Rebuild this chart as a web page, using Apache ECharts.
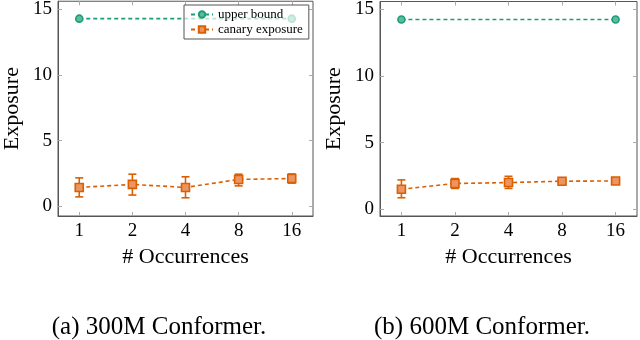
<!DOCTYPE html>
<html>
<head>
<meta charset="utf-8">
<script src="https://cdn.jsdelivr.net/npm/echarts@6/dist/echarts.min.js"></script>
<style>
  html, body { margin: 0; padding: 0; background: #fff; }
  #chart { width: 640px; height: 340px; }
</style>
</head>
<body>
<div id="chart"></div>
<script>
var occurrences = [1, 2, 4, 8, 16];
var boundOcc = [1, 16];
var bound300 = [14.3, 14.3];
var bound600 = [14.25, 14.25];
var canary300 = [1.42, 1.65, 1.42, 2.03, 2.1];
var low300 = [0.7, 0.84, 0.63, 1.54, 1.75];
var high300 = [2.15, 2.43, 2.23, 2.43, 2.45];
var canary600 = [1.51, 1.94, 2.01, 2.11, 2.13];
var low600 = [0.87, 1.57, 1.57, 2.02, 2.04];
var high600 = [2.21, 2.31, 2.48, 2.2, 2.22];
var yTicks = [0, 5, 10, 15];
var captions = ["(a) 300M Conformer.", "(b) 600M Conformer."];

var green = "#1b9e77";
var orange = "#d95f02";
var font = "Liberation Serif";

var chart = echarts.init(document.getElementById("chart"));

// x is placed on a log2 scale, labels show the occurrence count
var xTicks = occurrences.map(function (o) { return Math.log2(o); });

function pairs(xs, ys) {
  return xs.map(function (x, i) { return [Math.log2(x), ys[i]]; });
}
function bars(lo, hi) {
  return occurrences.map(function (o, i) { return [Math.log2(o), lo[i], hi[i]]; });
}

function errorBar(params, api) {
  var x = api.value(0);
  var lo = api.coord([x, api.value(1)]);
  var hi = api.coord([x, api.value(2)]);
  var w = 4;
  var st = { stroke: orange, lineWidth: 1.6 };
  return {
    type: "group",
    children: [
      { type: "line", shape: { x1: lo[0], y1: lo[1], x2: hi[0], y2: hi[1] }, style: st },
      { type: "line", shape: { x1: lo[0] - w, y1: lo[1], x2: lo[0] + w, y2: lo[1] }, style: st },
      { type: "line", shape: { x1: hi[0] - w, y1: hi[1], x2: hi[0] + w, y2: hi[1] }, style: st },
    ],
  };
}

function xAxes(grid) {
  return [
    {
      type: "value", gridIndex: grid, min: -0.4, max: 4.4, position: "bottom",
      name: "# Occurrences", nameLocation: "middle", nameGap: 25,
      nameTextStyle: { fontFamily: font, fontSize: 22, color: "#000" },
      axisLine: { show: true, onZero: false, lineStyle: { color: "#555", width: 1 } },
      axisTick: { show: true, inside: true, length: 4, customValues: xTicks, lineStyle: { color: "#aaa" } },
      axisLabel: {
        customValues: xTicks, margin: 6, fontFamily: font, fontSize: 19, color: "#000",
        formatter: function (v) { return String(Math.round(Math.pow(2, v))); },
      },
      splitLine: { show: false },
    },
    {
      type: "value", gridIndex: grid, min: -0.4, max: 4.4, position: "top",
      axisLine: { show: false, onZero: false },
      axisTick: { show: true, inside: true, length: 4, customValues: xTicks, lineStyle: { color: "#aaa" } },
      axisLabel: { show: false },
      splitLine: { show: false },
    },
  ];
}

function yAxes(grid, min, max) {
  return [
    {
      type: "value", gridIndex: grid, min: min, max: max, position: "left",
      name: "Exposure", nameLocation: "middle", nameGap: 35,
      nameTextStyle: { fontFamily: font, fontSize: 22, color: "#000" },
      axisLine: { show: true, onZero: false, lineStyle: { color: "#555", width: 1 } },
      axisTick: { show: true, inside: true, length: 4, customValues: yTicks, lineStyle: { color: "#aaa" } },
      axisLabel: { customValues: yTicks, margin: 6, fontFamily: font, fontSize: 19, color: "#000" },
      splitLine: { show: false },
    },
    {
      type: "value", gridIndex: grid, min: min, max: max, position: "right",
      axisLine: { show: false, onZero: false },
      axisTick: { show: true, inside: true, length: 4, customValues: yTicks, lineStyle: { color: "#aaa" } },
      axisLabel: { show: false },
      splitLine: { show: false },
    },
  ];
}

function panelSeries(axisBase, bound, canary, lo, hi) {
  return [
    {
      name: "upper bound", type: "line", xAxisIndex: axisBase, yAxisIndex: axisBase,
      data: pairs(boundOcc, bound),
      symbol: "circle", symbolSize: 7,
      itemStyle: { color: "#5fbb9f", borderColor: green, borderWidth: 1.6 },
      lineStyle: { color: green, width: 1.6, type: [4, 3] },
      z: 3,
    },
    {
      name: "err", type: "custom", xAxisIndex: axisBase, yAxisIndex: axisBase,
      data: bars(lo, hi), renderItem: errorBar, z: 2, silent: true,
    },
    {
      name: "canary exposure", type: "line", xAxisIndex: axisBase, yAxisIndex: axisBase,
      data: pairs(occurrences, canary),
      symbol: "rect", symbolSize: 8,
      itemStyle: { color: "#ec9561", borderColor: orange, borderWidth: 1.6 },
      lineStyle: { color: orange, width: 1.6, type: [4, 3] },
      z: 4,
    },
  ];
}

var option = {
  animation: false,
  grid: [
    { left: 55, top: 1, width: 258, height: 215, show: true, borderColor: "#555", borderWidth: 1 },
    { left: 380, top: 1, width: 257, height: 215, show: true, borderColor: "#555", borderWidth: 1 },
  ],
  xAxis: xAxes(0).concat(xAxes(1)),
  yAxis: yAxes(0, -0.76, 15.63).concat(yAxes(1, -0.5, 15.6)),
  legend: {
    data: ["upper bound", "canary exposure"],
    orient: "vertical", left: 184, top: 5,
    itemWidth: 22, itemHeight: 8, itemGap: 2,
    padding: [3, 6],
    borderColor: "#555", borderWidth: 1,
    backgroundColor: "rgba(255,255,255,0.7)",
    textStyle: { fontFamily: font, fontSize: 13, color: "#000" },
  },
  graphic: [
    { type: "text", x: 159, y: 327, style: { text: captions[0], font: "25px " + font, fill: "#000", textAlign: "center", textVerticalAlign: "middle" } },
    { type: "text", x: 482, y: 327, style: { text: captions[1], font: "25px " + font, fill: "#000", textAlign: "center", textVerticalAlign: "middle" } },
  ],
  series: panelSeries(0, bound300, canary300, low300, high300)
    .concat(panelSeries(2, bound600, canary600, low600, high600)),
};
chart.setOption(option);
</script>
</body>
</html>
